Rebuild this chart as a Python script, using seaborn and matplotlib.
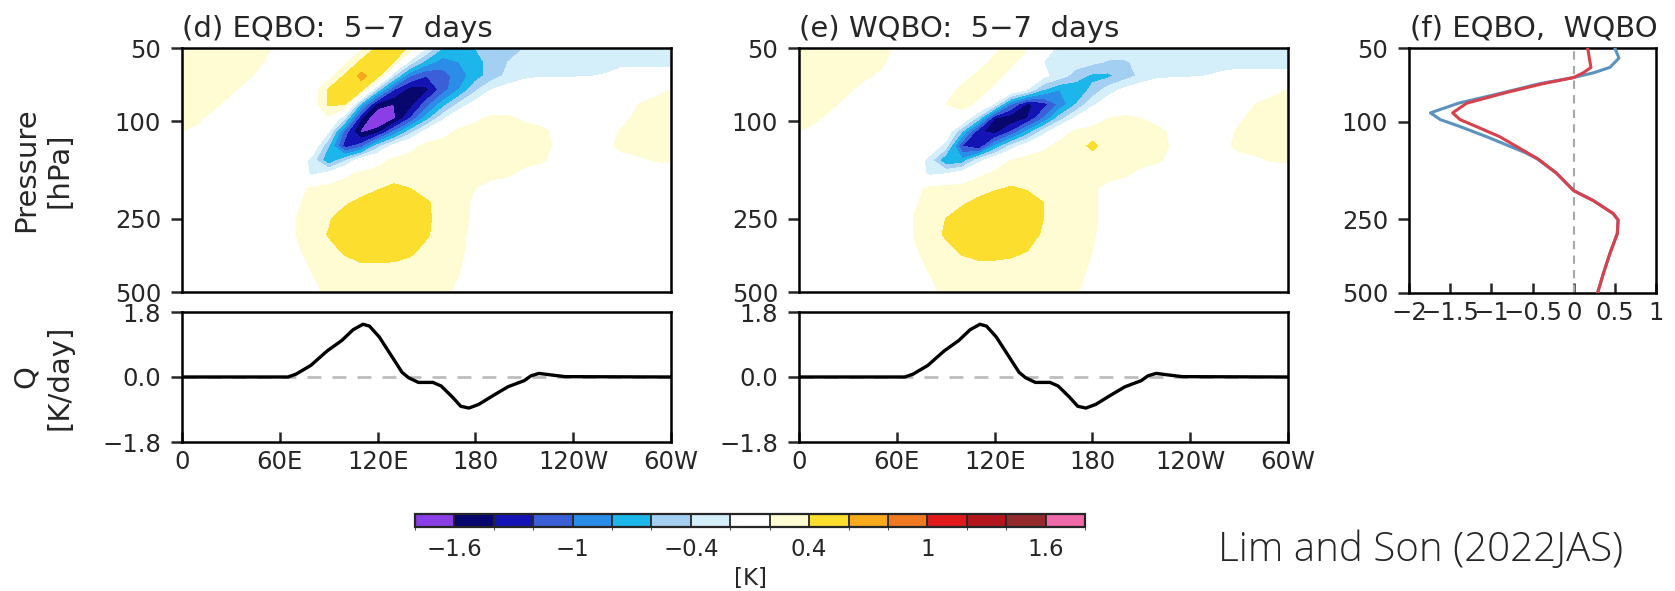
import numpy as np
import matplotlib
matplotlib.use("Agg")
import matplotlib.pyplot as plt
import seaborn as sns
from matplotlib.colors import ListedColormap, BoundaryNorm
from matplotlib.ticker import NullLocator, FixedLocator

sns.set_style("ticks")
plt.rcParams["font.family"] = ["DejaVu Sans"]

# ---------------- data ----------------
# longitude grid (deg E, 0..300 = 0..60W) and pressure levels (hPa)
lon_grid = [0, 10, 20, 30, 40, 50, 60, 70, 80, 90, 100, 110, 120, 130, 140, 150,
            160, 170, 180, 190, 200, 210, 220, 230, 240, 250, 260, 270, 280, 290, 300]
p_levels = [50, 57, 65, 74, 85, 97, 110, 126, 144, 164, 188, 215, 250, 290, 340, 420, 500]

# (d) EQBO temperature anomaly, tenths of K, one row per pressure level
d50 = [3,3,3,3,3,3,1,0,0,0,0,1.5,4.5,5.5,3.5,-2,-6,-7,-6,-5,-4,-4,-3,-3,-3,-3,-3,-3,-3,-3,-3]
d57 = [3,3,3,3,3,2,0,0,0,0,1.5,4.5,5.5,4,-3,-7,-9,-8,-6.5,-5.5,-4,-3,-3,-3,-3,-3,-3,-2.5,-2.5,-2.5,-2.5]
d65 = [3,3,3,3,2.5,1,0,0,0,1,4.3,6.5,5,-4,-10,-12,-11,-9,-7,-5,-3.5,-2.5,-2.2,-2.2,-2.2,-2.1,-1.8,-1.2,-1.2,-1.2,-1.2]
d74 = [3,3,3,2.5,1,0,0,0,0.5,4.2,5.5,5,-5,-12,-15,-14.5,-11,-8,-4.5,-2,-1,-0.5,0,0,0,0,0,0.5,1,1.5,2]
d85 = [3,3,2.5,1,0,0,0,0,1,4.3,4,-7,-15,-16,-15,-11,-7,-3.5,-1,0,0,0,0,0,0,0,0,1,2,2.5,3]
d97 = [2.8,2.5,1,0,0,0,0,0,0.5,1.5,-4,-14,-18.5,-16.5,-12,-7,-2.5,0.5,1.5,2.5,2.5,1.5,0.5,0,0,0,0,1,3,3,3]
d110 = [2,1,0,0,0,0,0,0,0,-2,-11,-16.5,-15,-10,-5,-1,1,2.5,3,3,3,3,3,1,0,0,0.5,2.5,3,3,3]
d126 = [1,0,0,0,0,0,0,0,0,-6,-13,-11,-5,-1,1,2.8,3,3,3,3,3,3,3,1.5,0.5,0,1,3,3,3,3]
d144 = [0,0,0,0,0,0,0,0,-3,-8,-4.5,-0.5,1,2.5,3,3,3,3,3,3,3,3,2.5,1,0,0,0,0.5,1.5,2.2,2.5]
d164 = [0,0,0,0,0,0,0,0,-2.5,-1,1.5,2.5,3,3,3,3,3,3,3,3,2.5,1,0,0,0,0,0,0,0,0,0]
d188 = [0,0,0,0,0,0,0,1,2.5,3,3,3.2,3.8,4.5,4,3.3,3,3,2,0.5,0,0,0,0,0,0,0,0,0,0,0]
d215 = [0,0,0,0,0,0,0,1.5,3,3.3,3.7,4.5,5.5,5.5,5.2,4.2,3.3,2.8,1.5,0,0,0,0,0,0,0,0,0,0,0,0]
d250 = [0,0,0,0,0,0,0.5,2,3.2,3.8,5,5.5,5.5,5.5,5.3,4.3,3.3,2.8,1.5,0,0,0,0,0,0,0,0,0,0,0,0]
d290 = [0,0,0,0,0,0,0.5,2,3.3,4.1,5.2,5.5,5.5,5.4,5,4.2,3.2,2.6,1.2,0,0,0,0,0,0,0,0,0,0,0,0]
d340 = [0,0,0,0,0,0,0.3,1.5,3,3.5,4.2,5,5,4.8,4.3,3.5,3,2.5,1,0,0,0,0,0,0,0,0,0,0,0,0]
d420 = [0,0,0,0,0,0,0,0.5,2,3,3,3,3,3,3,3,2.8,2,0.5,0,0,0,0,0,0,0,0,0,0,0,0]
d500 = [0,0,0,0,0,0,0,0,1,2.8,3,3,3,3,3,3,2.5,1.5,0,0,0,0,0,0,0,0,0,0,0,0,0]

# (e) WQBO temperature anomaly, tenths of K
e50 = [3,3,3,3,3,3,1.5,0,0,0,0,0.5,1.5,2.8,2.2,-1,-2.5,-3,-3,-3,-3,-3,-3,-3,-3,-3,-3,-3,-3,-3,-3]
e57 = [3,3,3,3,3,2.5,1,0,0,0,0,1,2.6,2.6,0.5,-2,-3,-3,-3.5,-4.2,-4.2,-3.5,-3,-3,-3,-3,-3,-2.5,-2.5,-2.5,-2.5]
e65 = [3,3,3,3,2.5,1.5,0.5,0,0,0,1,2.5,2.8,1.2,0,-1.5,-3,-5,-6.5,-6.5,-5,-3.5,-2.5,-2.3,-2.2,-2,-1.5,-1.5,-1.5,-1.5,-1.5]
e74 = [3,3,3,2.5,1,0,0,0,0,1,2.5,2.8,1.5,0.5,-2,-6,-8,-7.5,-5.5,-3,-1.5,-0.5,0,0,0,0,0,0.5,1,1.5,2]
e85 = [3,3,2.5,1,0,0,0,0,0.5,2,2.8,1.5,-2.5,-10,-14.5,-13,-9.5,-6,-2.5,-0.5,0,0,0,0,0,0,0,1,2,2.5,3]
e97 = [2.8,2.5,1,0,0,0,0,0,0,1,0.5,-5,-14,-15.5,-14,-10,-5,-1.5,0.5,2,2.5,2,0.5,0,0,0,0,1.5,3,3,3]
e110 = [2,1,0,0,0,0,0,0,0,0,-6,-13.5,-15,-12,-7.5,-3,0.5,2.5,3,3,3,3,3,1,0,0,0.5,2.5,3,3,3]
e126 = [1,0,0,0,0,0,0,0,0,-3,-12,-14.2,-8,-3.5,-0.5,1.5,2.8,3,4.5,3,3,3,3,1.5,0.5,0,1,3,3,3,3]
e144 = [0,0,0,0,0,0,0,0,-3,-8,-7.5,-3,0,2,3,3,3,3,3,3,3,3,2.5,1,0,0,0,0.5,1.5,2.2,2.5]
e164 = [0,0,0,0,0,0,0,0,-2.5,-2,-0.5,1.5,2.5,3,3,3,3,3,3,3,2.5,1,0,0,0,0,0,0,0,0,0]
e188 = [0,0,0,0,0,0,0,1,2.5,3,3,3.2,3.7,4.2,3.8,3.2,3,3,2.5,1,0,0,0,0,0,0,0,0,0,0,0]
e215 = [0,0,0,0,0,0,0,1.5,3,3.3,3.7,4.5,5.5,5.5,5,4,3.2,3,2.5,1,0,0,0,0,0,0,0,0,0,0,0]
e250 = [0,0,0,0,0,0,0.5,2,3.2,4,5,5.5,5.5,5.3,4.8,4,3.2,3,2.5,1,0,0,0,0,0,0,0,0,0,0,0]
e290 = [0,0,0,0,0,0,0.5,2,3.3,4.2,5.2,5.5,5.5,5.2,4.6,3.8,3.1,2.9,2.3,0.8,0,0,0,0,0,0,0,0,0,0,0]
e340 = [0,0,0,0,0,0,0.3,1.5,3,3.5,4.2,4.6,4.6,4.4,4,3.4,3,2.8,2,0.5,0,0,0,0,0,0,0,0,0,0,0]
e420 = [0,0,0,0,0,0,0,0.5,2,3,3,3,3,3,3,3,2.9,2.6,1.5,0.3,0,0,0,0,0,0,0,0,0,0,0]
e500 = [0,0,0,0,0,0,0,0,1,2.8,3,3,3,3,3,3,2.8,2.2,1,0,0,0,0,0,0,0,0,0,0,0,0]

T_eqbo_rows = [d50, d57, d65, d74, d85, d97, d110, d126, d144, d164, d188, d215, d250, d290, d340, d420, d500]
T_wqbo_rows = [e50, e57, e65, e74, e85, e97, e110, e126, e144, e164, e188, e215, e250, e290, e340, e420, e500]

# diabatic heating Q (K/day) vs longitude (same in both panels)
q_lon = [0, 65, 70, 79, 89, 98, 105, 111, 115, 121, 128, 135, 139, 145, 154, 159, 166,
         171, 176, 182, 191, 200, 210, 214, 219, 226, 235, 300]
q_val = [0, 0, 0.08, 0.32, 0.72, 1.01, 1.31, 1.46, 1.41, 1.11, 0.62, 0.13, -0.02, -0.15,
         -0.15, -0.25, -0.56, -0.81, -0.86, -0.76, -0.51, -0.27, -0.10, 0.03, 0.10, 0.06, 0.01, 0]

# (f) profiles
prof_p = [50, 55, 60, 63, 66, 70, 76, 84, 92, 98, 104, 115, 134, 142, 162, 191, 210, 237, 252, 286, 345, 417, 500]
prof_eqbo = [0.50, 0.55, 0.44, 0.25, 0.0, -0.42, -0.85, -1.40, -1.74, -1.62, -1.40, -1.06, -0.58, -0.44,
             -0.21, 0.0, 0.24, 0.48, 0.54, 0.53, 0.44, 0.36, 0.29]
prof_wqbo = [0.17, 0.19, 0.21, 0.12, 0.0, -0.38, -0.82, -1.30, -1.47, -1.38, -1.20, -0.90, -0.56, -0.43,
             -0.21, 0.0, 0.24, 0.48, 0.54, 0.53, 0.44, 0.36, 0.29]

# color scale
levels = [-3.0, -1.6, -1.4, -1.2, -1.0, -0.8, -0.6, -0.4, -0.2, 0.2, 0.4, 0.6, 0.8, 1.0, 1.2, 1.4, 1.6, 3.0]
colors = ["#8a3ee6", "#07076e", "#1414b4", "#3a5fd8", "#2b8de8", "#1cb6ea", "#a3cff2", "#d5effa",
          "#ffffff", "#fffbd2", "#fcdf2e", "#f6aa1c", "#f07a22", "#e01a1a", "#b5161e", "#942a2c", "#ee6aa8"]
cb_ticks = [-1.6, -1, -0.4, 0.4, 1, 1.6]
cb_ticklabels = ["\u22121.6", "\u22121", "\u22120.4", "0.4", "1", "1.6"]
lon_ticks = [0, 60, 120, 180, 240, 300]
lon_labels = ["0", "60E", "120E", "180", "120W", "60W"]
p_ticks = [50, 100, 250, 500]

# ---------------- figure ----------------
W, H = 1675, 591
fig = plt.figure(figsize=(W / 100, H / 100), dpi=100)
cmap = ListedColormap(colors)
norm = BoundaryNorm(levels, ncolors=len(colors))

TICK_FS = 17.5
LAB_FS = 21


def frame(ax):
    for s in ax.spines.values():
        s.set_linewidth(1.8)
        s.set_color("black")
        s.set_visible(True)


def fax(x0, y0, x1, y1):
    return fig.add_axes([x0 / W, 1 - y1 / H, (x1 - x0) / W, (y1 - y0) / H])


def contour_panel(x0, rows, title):
    ax = fax(x0, 48, x0 + 489, 292)
    Z = np.array(rows, dtype=float) / 10.0
    cf = ax.contourf(lon_grid, p_levels, Z, levels=levels, cmap=cmap, norm=norm)
    ax.set_yscale("log")
    ax.set_ylim(500, 50)
    ax.set_xlim(0, 300)
    ax.yaxis.set_major_locator(FixedLocator(p_ticks))
    ax.yaxis.set_minor_locator(NullLocator())
    ax.set_yticklabels([str(v) for v in p_ticks])
    ax.set_xticks([])
    ax.tick_params(axis="y", direction="out", length=8, width=1.8, labelsize=TICK_FS, pad=7)
    frame(ax)
    fig.text(x0 / W, 1 - 37 / H, title, fontsize=LAB_FS, ha="left", va="baseline")

    axq = fax(x0, 312, x0 + 489, 442)
    axq.axhline(0, color="#bdbdbd", lw=2, ls=(0, (5, 4)), zorder=1)
    sns.lineplot(x=q_lon, y=q_val, ax=axq, color="black", lw=2.4, estimator=None, sort=False, zorder=3)
    axq.set_xlim(0, 300)
    axq.set_ylim(-1.8, 1.8)
    axq.set_yticks([-1.8, 0, 1.8])
    axq.set_yticklabels(["\u22121.8", "0.0", "1.8"])
    axq.set_xticks(lon_ticks)
    axq.set_xticklabels(lon_labels)
    axq.set_xlabel("")
    axq.set_ylabel("")
    axq.tick_params(axis="y", direction="out", length=8, width=1.8, labelsize=TICK_FS, pad=7)
    axq.tick_params(axis="x", direction="in", length=7, width=1.8, labelsize=TICK_FS, pad=6)
    frame(axq)
    return cf


cf = contour_panel(182, T_eqbo_rows, "(d) EQBO:  5\u22127  days")
contour_panel(799, T_wqbo_rows, "(e) WQBO:  5\u22127  days")

fig.text(43 / W, 1 - 170 / H, "Pressure\n[hPa]", rotation=90, ha="center", va="center",
         fontsize=LAB_FS, multialignment="center", linespacing=1.25)
fig.text(43 / W, 1 - 377 / H, "Q\n[K/day]", rotation=90, ha="center", va="center",
         fontsize=LAB_FS, multialignment="center", linespacing=1.25)

# (f) profiles
axf = fax(1409, 48, 1656, 293)
axf.axvline(0, color="#a8a8a8", lw=1.5, ls=(0, (4, 3)), zorder=1)
sns.lineplot(x=prof_eqbo, y=prof_p, ax=axf, color="#5b93c0", lw=2.2, estimator=None, sort=False, zorder=3)
sns.lineplot(x=prof_wqbo, y=prof_p, ax=axf, color="#d8404c", lw=2.2, estimator=None, sort=False, zorder=4)
axf.set_yscale("log")
axf.set_ylim(500, 50)
axf.set_xlim(-2, 1)
axf.yaxis.set_major_locator(FixedLocator(p_ticks))
axf.yaxis.set_minor_locator(NullLocator())
axf.set_yticklabels([str(v) for v in p_ticks])
axf.set_xticks([-2, -1.5, -1, -0.5, 0, 0.5, 1])
axf.set_xticklabels(["\u22122", "\u22121.5", "\u22121", "\u22120.5", "0", "0.5", "1"])
axf.set_xlabel("")
axf.set_ylabel("")
axf.tick_params(axis="y", direction="out", length=8, width=1.8, labelsize=TICK_FS, pad=7)
axf.tick_params(axis="x", direction="in", length=7, width=1.8, labelsize=TICK_FS, pad=6)
frame(axf)
fig.text(1410 / W, 1 - 37 / H, "(f) EQBO,  WQBO", fontsize=LAB_FS, ha="left", va="baseline")

# colorbar
cax = fax(415, 514, 1085, 527)
cb = fig.colorbar(cf, cax=cax, orientation="horizontal", ticks=cb_ticks, drawedges=True, spacing="uniform")
cb.set_ticklabels(cb_ticklabels)
cb.ax.tick_params(length=0, labelsize=16.5, pad=8)
cb.outline.set_linewidth(1.6)
cb.dividers.set_linewidth(1.3)
fig.text(750 / W, 1 - 579 / H, "[K]", ha="center", va="center", fontsize=16.5)

fig.text(1218 / W, 1 - 550 / H, "Lim and Son (2022JAS)", ha="left", va="center",
         fontsize=29, family=["Open Sans", "DejaVu Sans"], fontweight="light")

fig.savefig("out.png", dpi=100)
